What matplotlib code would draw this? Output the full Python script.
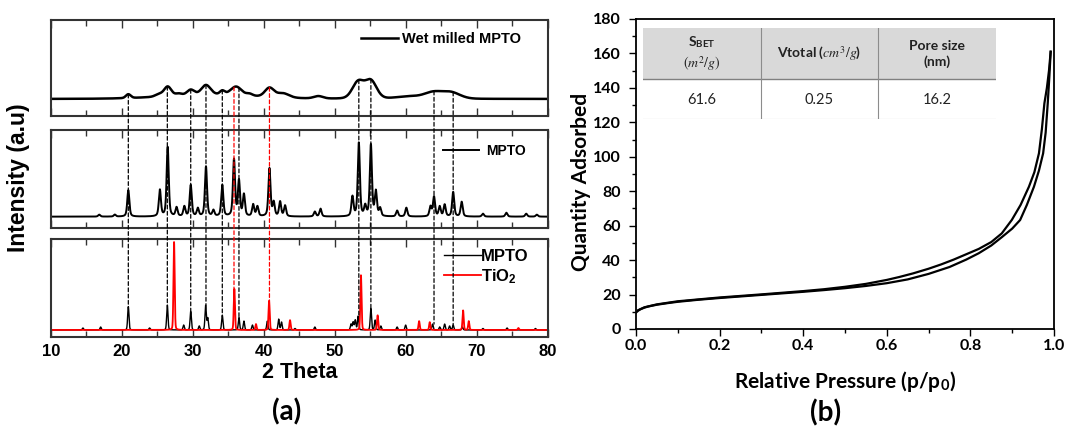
"""
XRD patterns (a) and N2 adsorption isotherm with BET table (b).
"""
import numpy as np
import matplotlib.pyplot as plt
from matplotlib import font_manager as fm
from matplotlib.patches import ConnectionPatch, Rectangle

plt.rcParams['mathtext.fontset'] = 'stix'

names = {f.name for f in fm.fontManager.ttflist}
LEFT_FONT = ['Liberation Sans Narrow'] if 'Liberation Sans Narrow' in names else ['Liberation Sans']
LEFT_FONT = LEFT_FONT + ['DejaVu Sans']
RIGHT_FONT = ['Lato', 'DejaVu Sans']

# ---- (a) XRD data: peak position (2theta), height above baseline, width ----
two_theta_range = [10, 80]

wet_baseline = 17.5
wet_pos = [20.9, 25.2, 26.45, 28.0, 29.7, 31.85, 34.15, 36.1, 38.0, 40.8, 42.7, 47.7,
           53.3, 55.1, 60.5, 63.9, 66.4, 32.5]
wet_height = [4.0, 2.5, 10.0, 2.0, 5.5, 10.0, 4.0, 9.0, 2.0, 9.5, 4.5, 2.5,
              17.5, 18.5, 2.5, 6.5, 6.5, 4.5]
wet_fwhm = [0.8, 1.2, 1.2, 1.0, 1.2, 1.5, 0.8, 1.8, 1.0, 1.5, 2.0, 1.5,
            1.9, 1.9, 4.0, 3.0, 3.0, 15.0]

mpto_baseline = 11.3
mpto_pos = [16.8, 19.0, 20.9, 25.35, 26.45, 27.7, 28.8, 29.7, 30.7, 31.85, 32.9, 34.15,
            35.8, 36.5, 37.2, 38.5, 39.1, 40.8, 41.4, 42.3, 43.0, 47.2, 48.0, 52.5,
            53.4, 54.3, 55.1, 55.8, 56.4, 58.8, 60.1, 63.5, 64.0, 64.8, 65.5, 66.7,
            67.9, 70.9, 74.2, 77.0, 78.5]
mpto_height = [2, 2, 27, 27, 71, 9, 10, 32, 8, 51, 6, 32,
               58, 36, 22, 12, 10, 49, 14, 15, 11, 5, 8, 20,
               75, 10, 73, 25, 8, 6, 9, 10, 20, 10, 12, 25,
               15, 3, 4, 3, 2]
mpto_fwhm = 0.35

ref_baseline = 6.9
ref_mpto_pos = [14.5, 17.0, 20.9, 23.9, 26.4, 28.7, 29.7, 30.9, 31.8, 32.1, 34.15, 36.5,
                37.2, 38.4, 40.5, 42.1, 42.5, 44.4, 47.2, 52.3, 52.6, 52.9, 53.3, 55.1,
                55.7, 56.5, 58.8, 60.0, 63.8, 64.8, 65.5, 66.2, 66.7, 68.0, 70.9, 74.3, 78.3]
ref_mpto_height = [2, 3, 24, 2, 25.5, 5, 19, 4, 25, 12, 15, 12.6,
                   9, 5, 9, 11, 8, 1.5, 3, 6, 8, 10, 14, 22,
                   10, 4, 3, 5, 6, 3, 6, 4, 5, 3, 1.5, 2, 1.5]
ref_tio2_pos = [27.35, 35.85, 38.9, 40.75, 43.7, 53.7, 56.05, 61.9, 63.4, 68.1, 68.9, 75.9]
ref_tio2_height = [90, 42, 6, 30, 10, 56, 15, 9, 8, 20, 9, 2]
ref_fwhm = 0.22

dash_black = [20.9, 26.4, 29.7, 31.85, 34.15, 36.5, 53.4, 55.1, 64.0, 66.7]
dash_red = [35.8, 40.8]

# ---- (b) N2 isotherm ----
ads_p = [0.000, 0.005, 0.010, 0.020, 0.030, 0.050, 0.075, 0.100, 0.150, 0.200, 0.250,
         0.300, 0.350, 0.400, 0.450, 0.500, 0.550, 0.600, 0.650, 0.700, 0.750, 0.790,
         0.820, 0.850, 0.875, 0.900, 0.919, 0.935, 0.952, 0.964, 0.974, 0.980, 0.985,
         0.989, 0.992]
ads_q = [9.5, 10.6, 11.4, 12.4, 13.1, 14.1, 15.0, 15.8, 17.0, 18.0, 18.9,
         19.8, 20.7, 21.6, 22.6, 23.7, 25.0, 26.6, 28.8, 32.0, 36.0, 40.3,
         44.0, 48.5, 53.3, 58.3, 63.3, 72.0, 82.6, 92.0, 102.0, 114.0, 131.0,
         147.0, 161.0]
des_p = [0.992, 0.988, 0.983, 0.977, 0.971, 0.964, 0.953, 0.940, 0.920, 0.899, 0.875,
         0.850, 0.820, 0.791, 0.760, 0.730, 0.700, 0.663, 0.630, 0.600, 0.550, 0.500,
         0.450, 0.400, 0.300, 0.200, 0.100, 0.050, 0.020, 0.005]
des_q = [161.0, 150.0, 140.0, 131.0, 116.0, 102.0, 91.0, 82.6, 72.0, 63.3, 55.5,
         50.5, 46.5, 43.5, 40.3, 37.5, 35.0, 32.3, 30.2, 28.5, 26.2, 24.5,
         23.1, 22.0, 20.1, 18.3, 16.1, 14.3, 12.6, 10.9]

table_headers = [r'S$_{\mathregular{BET}}$' + '\n' + r'$(m^2/g)$',
                 r'Vtotal ($cm^3/g$)',
                 'Pore size\n(nm)']
table_values = ['61.6', '0.25', '16.2']


def pattern(x, pos, height, fwhm, base, eta):
    y = np.full_like(x, base)
    fwhm = np.broadcast_to(fwhm, np.shape(pos))
    for p, h, w in zip(pos, height, fwhm):
        g = np.exp(-4 * np.log(2) * ((x - p) / w) ** 2)
        l = 1 / (1 + 4 * ((x - p) / w) ** 2)
        y += h * (eta * l + (1 - eta) * g)
    return y


x = np.linspace(two_theta_range[0], two_theta_range[1], 14001)
y_wet = pattern(x, wet_pos, wet_height, wet_fwhm, wet_baseline, 0.15)
y_mpto = pattern(x, mpto_pos, mpto_height, mpto_fwhm, mpto_baseline, 0.5)
y_ref = pattern(x, ref_mpto_pos, ref_mpto_height, ref_fwhm, ref_baseline, 0.2)
y_tio2 = pattern(x, ref_tio2_pos, ref_tio2_height, 0.2, ref_baseline, 0.2)

fig = plt.figure(figsize=(10.67, 4.30), dpi=100)
W, H = 1067, 430


def box(l, t, r, b):
    return [l / W, 1 - b / H, (r - l) / W, (b - t) / H]


ax_top = fig.add_axes(box(51, 20, 547.5, 115.7))
ax_mid = fig.add_axes(box(51, 130, 547.5, 227.7))
ax_bot = fig.add_axes(box(51, 239, 547.5, 336.7))

ax_top.plot(x, y_wet, color='black', lw=1.8, label='Wet milled MPTO')
ax_mid.plot(x, y_mpto, color='black', lw=1.4, label='MPTO')
ax_bot.plot(x, y_ref, color='black', lw=1.0, label='MPTO')
ax_bot.plot(x, y_tio2, color='red', lw=1.3, label=r'TiO$_{\mathregular{2}}$')

for ax in (ax_top, ax_mid, ax_bot):
    ax.set_xlim(*two_theta_range)
    ax.set_ylim(0, 100)
    ax.set_yticks([])
    ax.set_xticks(np.arange(10, 81, 10))
    ax.set_xticks(np.arange(15, 80, 10), minor=True)
    ax.tick_params(axis='x', which='both', direction='in', top=True, bottom=True,
                   width=1.0, color='#333333')
    ax.tick_params(axis='x', which='major', length=6)
    ax.tick_params(axis='x', which='minor', length=4)
    for s in ax.spines.values():
        s.set_linewidth(1.5)
        s.set_color('#333333')
    if ax is not ax_bot:
        ax.tick_params(axis='x', labelbottom=False)

for lab in ax_bot.get_xticklabels():
    lab.set_family(LEFT_FONT)
    lab.set_fontweight('bold')
    lab.set_fontsize(12)
ax_bot.tick_params(axis='x', pad=5)

leg_font = {'family': ['Liberation Sans', 'DejaVu Sans'], 'weight': 'bold'}
ax_top.legend(loc='upper right', bbox_to_anchor=(0.947, 0.875), frameon=False,
              borderaxespad=0, borderpad=0, handlelength=2.5, handletextpad=0.3,
              prop=dict(leg_font, size=10.5))
ax_mid.legend(loc='upper right', bbox_to_anchor=(0.957, 0.857), frameon=False,
              borderaxespad=0, borderpad=0, handlelength=2.6, handletextpad=0.5,
              prop=dict(leg_font, size=10))
ax_bot.legend(loc='upper right', bbox_to_anchor=(0.961, 0.898), frameon=False,
              borderaxespad=0, borderpad=0, handlelength=2.2, handletextpad=0.0,
              labelspacing=0.2, prop=dict(leg_font, size=12))

# dashed guide lines from wet milled peaks down to the reference peaks
for xs, col, yref in ((dash_black, 'black', y_ref), (dash_red, 'red', y_tio2)):
    for xd in xs:
        y_a = np.interp(xd, x, y_wet)
        near = np.abs(x - xd) < 0.3
        y_b = yref[near].max()
        cp = ConnectionPatch(xyA=(xd, y_a), coordsA=ax_top.transData,
                             xyB=(xd, y_b), coordsB=ax_bot.transData,
                             color=col, lw=0.9, ls=(0, (3, 2)))
        fig.add_artist(cp)

fig.text(300 / W, 1 - 373 / H, '2 Theta', ha='center', va='center',
         family=LEFT_FONT, weight='bold', fontsize=15.5)
fig.text(19 / W, 1 - 178 / H, 'Intensity (a.u)', ha='center', va='center',
         rotation=90, family=LEFT_FONT, weight='bold', fontsize=16.5)
fig.text(287 / W, 1 - 412 / H, '(a)', ha='center', va='center',
         family=RIGHT_FONT, weight='bold', fontsize=20)

# ---- (b) ----
ax_b = fig.add_axes(box(636, 19, 1054, 329))
ax_b.plot(ads_p, ads_q, color='black', lw=1.6, solid_joinstyle='round')
ax_b.plot(des_p, des_q, color='black', lw=1.6, solid_joinstyle='round')
ax_b.set_xlim(0, 1.0)
ax_b.set_ylim(0, 180)
ax_b.set_xticks(np.arange(0, 1.01, 0.2))
ax_b.set_xticks(np.arange(0.1, 1.0, 0.2), minor=True)
ax_b.set_yticks(np.arange(0, 181, 20))
ax_b.set_yticks(np.arange(10, 180, 20), minor=True)
ax_b.xaxis.set_major_formatter(plt.FormatStrFormatter('%.1f'))
ax_b.tick_params(which='both', direction='out', width=1.0)
ax_b.tick_params(which='major', length=5)
ax_b.tick_params(which='minor', length=3)
ax_b.tick_params(axis='x', pad=2)
ax_b.tick_params(axis='y', pad=6)
for s in ax_b.spines.values():
    s.set_linewidth(1.3)
for lab in ax_b.get_xticklabels() + ax_b.get_yticklabels():
    lab.set_family(RIGHT_FONT)
    lab.set_fontweight('bold')
    lab.set_fontsize(11.5)

fig.text(845 / W, 1 - 381 / H, r'Relative Pressure (p/p$_{\mathregular{0}}$)',
         ha='center', va='center', family=RIGHT_FONT, weight='bold', fontsize=15)
fig.text(581 / W, 1 - 182 / H, 'Quantity Adsorbed', ha='center', va='center',
         rotation=90, family=RIGHT_FONT, weight='bold', fontsize=15)
fig.text(826 / W, 1 - 413 / H, '(b)', ha='center', va='center',
         family=RIGHT_FONT, weight='bold', fontsize=20)

# table with BET results
ax_t = fig.add_axes(box(643, 28.3, 996, 119))
ax_t.set_xlim(0, 3)
ax_t.set_ylim(0, 1)
ax_t.axis('off')
ax_t.add_patch(Rectangle((0, 0.44), 3, 0.56, color='#d9d9d9', lw=0))
ax_t.plot([0, 3], [0.44, 0.44], color='#808080', lw=1.0)
ax_t.plot([0, 3], [0.0, 0.0], color='#a6a6a6', lw=0.8)
for xv in (1, 2):
    ax_t.plot([xv, xv], [0, 1], color='#8c8c8c', lw=0.8)
for i, (hdr, val) in enumerate(zip(table_headers, table_values)):
    ax_t.text(i + 0.5, 0.72, hdr, ha='center', va='center', family=RIGHT_FONT,
              weight='bold', fontsize=10, color='#222222', linespacing=1.35)
    ax_t.text(i + 0.5, 0.21, val, ha='center', va='center', family=RIGHT_FONT,
              fontsize=10.5, color='#222222')

fig.savefig('out.png', dpi=100)
